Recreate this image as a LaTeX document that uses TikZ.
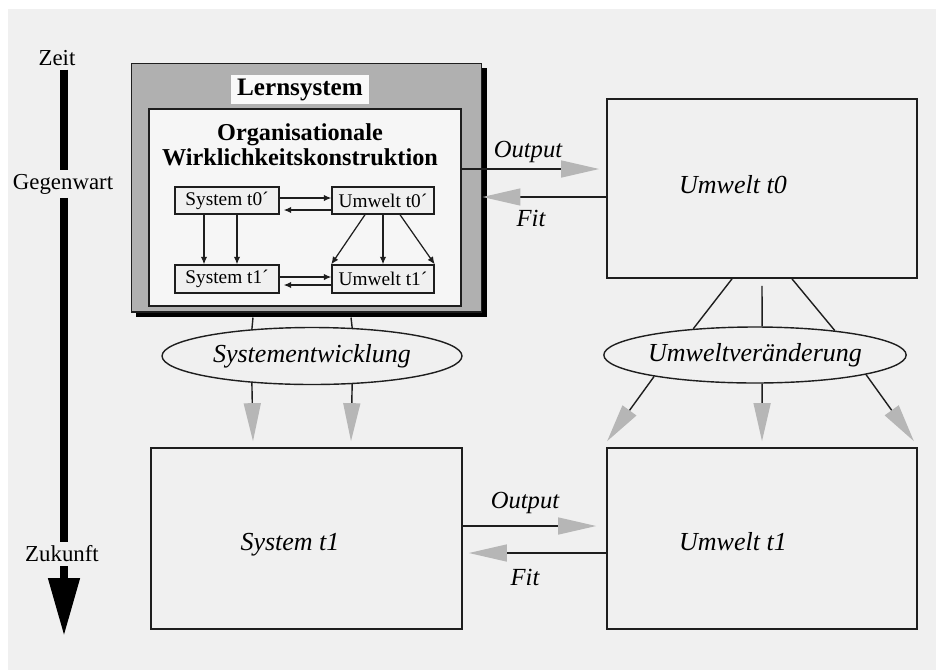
\documentclass[tikz,border=0pt]{standalone}
\usepackage{fontspec}
\setmainfont{Liberation Serif}
\usepackage{tikz}
\usetikzlibrary{arrows.meta}
\usetikzlibrary{shapes}
\usetikzlibrary{shadows}
\usetikzlibrary{calc}
\definecolor{paper}{HTML}{F0F0F0}
\definecolor{frame}{HTML}{B0B0B0}
\definecolor{tipgray}{HTML}{B6B6B6}
\definecolor{ink}{HTML}{1E1E1E}
\tikzstyle{bigbox}=[draw=ink, line width=1pt, fill=paper, inner sep=0pt]
\tikzstyle{smallbox}=[draw=ink, line width=0.8pt, fill=paper, inner sep=0pt, font=\fontsize{11}{13}\selectfont]
\tikzstyle{bubble}=[ellipse, draw=ink, line width=0.8pt, fill=paper, inner sep=0pt, font=\fontsize{14.8}{17}\selectfont\itshape]
\tikzstyle{biglabel}=[font=\fontsize{14.8}{17}\selectfont\itshape, inner sep=1pt]
\tikzstyle{flowlabel}=[font=\fontsize{14}{16}\selectfont\itshape, inner sep=1pt]
\tikzstyle{timelabel}=[font=\fontsize{13}{15}\selectfont, inner sep=2pt]
\tikzstyle{timeline}=[draw=black, line width=4.5pt]
\tikzstyle{link}=[draw=ink, line width=0.8pt]
\tikzstyle{grayarrow}=[draw=ink, line width=0.8pt, -{Triangle[length=7.6mm, width=3.4mm, color=tipgray]}]
\tikzstyle{smallarrow}=[draw=ink, line width=0.7pt, -{Latex[length=1.5mm, width=1.3mm]}]

\begin{document}
\begin{tikzpicture}[x=0.02cm, y=-0.02cm]
	\useasboundingbox (0,0) rectangle (936,670);
	\fill[white] (0,0) rectangle (936,670);
	\fill[paper] (8,9) rectangle (936,670);

	\node[timelabel] (zeit) at (57,58) {Zeit};
	\node[timelabel] (gegen) at (63,184) {Gegenwart};
	\node[timelabel] (zuk) at (62,554) {Zukunft};
	\coordinate (ztip) at (64,636);
	\draw[timeline] (zeit.south -| ztip) -- (gegen.north -| ztip);
	\draw[timeline] (gegen.south -| ztip) -- (zuk.north -| ztip);
	\draw[timeline, -{Triangle[length=11.6mm, width=6mm]}] (zuk.south -| ztip) -- (ztip);

	\node[draw=ink, line width=0.6pt, fill=frame, inner sep=0pt, minimum width=7.02cm, minimum height=4.98cm,
		drop shadow={shadow xshift=0.1cm, shadow yshift=-0.1cm, fill=black, opacity=1}] (lern) at (306.5,187.5) {};
	\node[fill=white!60!paper, inner sep=0pt, minimum width=2.76cm, minimum height=0.58cm,
		font=\fontsize{14.3}{16}\selectfont\bfseries] (lernlbl) at (300,89.5) {Lernsystem};
	\node[draw=ink, line width=0.8pt, fill=white!40!paper, inner sep=0pt, minimum width=6.24cm, minimum height=3.94cm] (werk) at (305,207.5) {};
	\node[align=center, inner sep=0pt, font=\fontsize{13.8}{14.2}\selectfont\bfseries] (titel) at (300,145) {Organisationale\\Wirklichkeitskonstruktion};

	\node[smallbox, minimum width=2.08cm, minimum height=0.54cm] (st0s) at (227,200.5) {System t0´};
	\node[smallbox, minimum width=2.04cm, minimum height=0.54cm] (ut0s) at (383,200.5) {Umwelt t0´};
	\node[smallbox, minimum width=2.08cm, minimum height=0.56cm] (st1s) at (227,279) {System t1´};
	\node[smallbox, minimum width=2.04cm, minimum height=0.56cm] (ut1s) at (383,279) {Umwelt t1´};
	\draw[smallarrow] ($(st0s.east)+(0,-2.5)$) -- ($(ut0s.west)+(0,-2.5)$);
	\draw[smallarrow, shorten >=0.8mm] ($(ut0s.west)+(0,9.5)$) -- ($(st0s.east)+(0,9.5)$);
	\draw[smallarrow] ($(st1s.east)+(0,-2)$) -- ($(ut1s.west)+(0,-2)$);
	\draw[smallarrow, shorten >=0.8mm] ($(ut1s.west)+(0,6)$) -- ($(st1s.east)+(0,6)$);
	\draw[smallarrow] ($(st0s.south)+(-23,0)$) -- ($(st1s.north)+(-23,0)$);
	\draw[smallarrow] ($(st0s.south)+(10,0)$) -- ($(st1s.north)+(10,0)$);
	\draw[smallarrow] ($(ut0s.south)+(-18,0)$) -- (ut1s.north west);
	\draw[smallarrow] (ut0s.south) -- (ut1s.north);
	\draw[smallarrow] ($(ut0s.south)+(17,0)$) -- (ut1s.north east);

	\node[bigbox, minimum width=6.2cm, minimum height=3.58cm] (ut0) at (762,188.5) {};
	\node[biglabel] (ut0lbl) at (733,185) {Umwelt t0};
	\node[bigbox, minimum width=6.22cm, minimum height=3.62cm] (st1) at (306.5,538.5) {};
	\node[biglabel] (st1lbl) at (290,545) {System t1};
	\node[bigbox, minimum width=6.2cm, minimum height=3.62cm] (ut1) at (762,538.5) {};
	\node[biglabel] (ut1lbl) at (733,542) {Umwelt t1};

	\draw[grayarrow, shorten >=1.4mm] ($(werk.east)+(0,-38.5)$) -- ($(ut0.west)+(0,-19.5)$);
	\draw[grayarrow] ($(ut0.west)+(0,8.5)$) -- ($(lern.east)+(0,9.5)$);
	\node[flowlabel] (out0) at (528,152) {Output};
	\node[flowlabel] (fit0) at (531,218) {Fit};
	\draw[grayarrow, shorten >=2mm] ($(st1.east)+(0,-12.5)$) -- ($(ut1.west)+(0,-12.5)$);
	\draw[grayarrow, shorten >=1.2mm] ($(ut1.west)+(0,14.5)$) -- ($(st1.east)+(0,14.5)$);
	\node[flowlabel] (out1) at (525,503) {Output};
	\node[flowlabel] (fit1) at (525,577) {Fit};

	\node[bubble, minimum width=6cm, minimum height=1.14cm] (se) at (312,356) {Systementwicklung};
	\draw[link] ($(lern.south)+(-53.5,5)$) -- (se.156);
	\draw[link] ($(lern.south)+(44.5,5)$) -- (se.35);
	\draw[grayarrow] (se.204) -- ($(st1.north)+(-53.5,-6)$);
	\draw[grayarrow] (se.325) -- ($(st1.north)+(44.5,-6)$);

	\node[bubble, minimum width=5.94cm, minimum height=1.12cm] (uv) at (755,355) {Umweltveränderung};
	\draw[link] ($(ut0.south)+(-30,0)$) -- (uv.157);
	\draw[link] ($(ut0.south)+(0,7)$) -- (uv.76);
	\draw[link] ($(ut0.south)+(30,0)$) -- (uv.17);
	\draw[grayarrow] (uv.192) -- ($(ut1.north west)+(1,-6)$);
	\draw[grayarrow] (uv.284) -- ($(ut1.north)+(0,-6)$);
	\draw[grayarrow] (uv.350) -- ($(ut1.north east)+(-4,-6)$);
\end{tikzpicture}
\end{document}
